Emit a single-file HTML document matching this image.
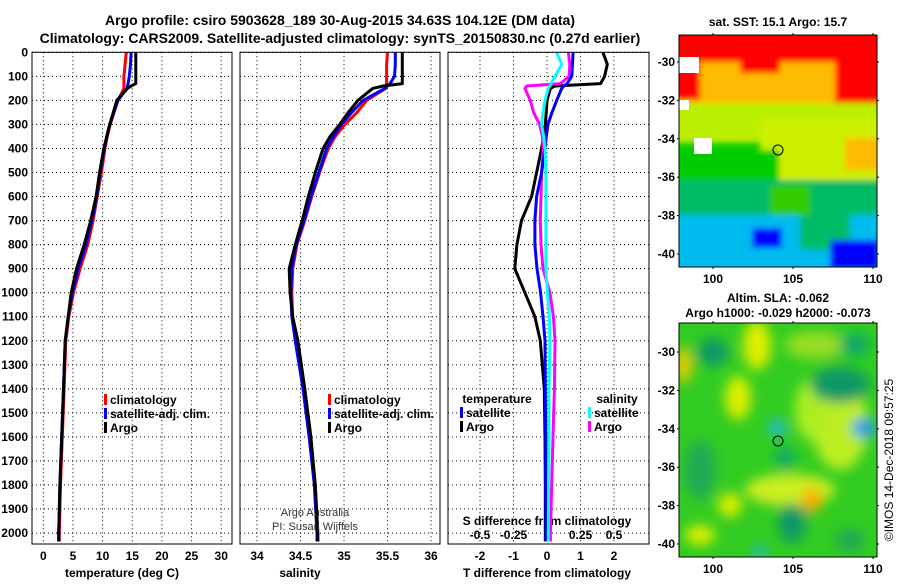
<!DOCTYPE html>
<html><head><meta charset="utf-8"><style>
body{margin:0;background:#fff;width:900px;height:580px;overflow:hidden}
svg text{font-family:"Liberation Sans",sans-serif;font-weight:bold;font-size:12px;fill:#000}
</style></head><body>
<svg id="c" width="900" height="580" viewBox="0 0 900 580">
<defs><filter id="bl" x="-30%" y="-30%" width="160%" height="160%"><feGaussianBlur stdDeviation="6"/></filter>
<filter id="bl2" x="-10%" y="-10%" width="120%" height="120%"><feGaussianBlur stdDeviation="3"/></filter>
<clipPath id="cm1"><rect x="679" y="35" width="198" height="232"/></clipPath>
<clipPath id="cm2"><rect x="679" y="323" width="198" height="234"/></clipPath></defs>
<text x="340" y="25" text-anchor="middle" style="font-size:14px">Argo profile: csiro 5903628_189 30-Aug-2015 34.63S 104.12E (DM data)</text>
<text x="340" y="43" text-anchor="middle" style="font-size:14px">Climatology: CARS2009. Satellite-adjusted climatology: synTS_20150830.nc (0.27d earlier)</text>
<g id="g"></g>
<!-- top map -->
<g clip-path="url(#cm1)">
<rect x="679" y="35" width="198" height="232" fill="#00cc00"/>
<g filter="url(#bl2)">
<rect x="670" y="25" width="220" height="40" fill="#ff0000"/>
<rect x="670" y="62" width="220" height="45" fill="#ffbb00"/>
<polygon points="835,62 890,62 890,125 850,125 835,110" fill="#ff0000"/>
<rect x="670" y="62" width="30" height="38" fill="#ff0000"/>
<rect x="740" y="58" width="40" height="15" fill="#ff0000"/>
<rect x="670" y="103" width="220" height="40" fill="#bbee00"/>
<rect x="760" y="118" width="130" height="62" fill="#ccf000"/>
<rect x="845" y="138" width="40" height="32" fill="#ffbb00"/>
<rect x="679" y="150" width="100" height="35" fill="#00cc00"/>
<rect x="670" y="180" width="220" height="35" fill="#00bb66"/>
<rect x="770" y="185" width="40" height="40" fill="#33cc00"/>
<rect x="670" y="215" width="220" height="60" fill="#00bbee"/>
<rect x="800" y="215" width="50" height="35" fill="#00bb66"/>
<rect x="830" y="240" width="50" height="30" fill="#0000ff"/>
<rect x="752" y="228" width="30" height="20" fill="#0000ff"/>
</g>
<rect x="679" y="57" width="20" height="16" fill="#fff"/>
<rect x="694" y="138" width="18" height="16" fill="#fff"/>
<rect x="679" y="100" width="10" height="10" fill="#fff"/>
<circle cx="778" cy="150" r="5" fill="none" stroke="#000"/>
</g>
<rect x="679" y="35" width="198" height="232" fill="none" stroke="#000"/>
<text x="778" y="26" text-anchor="middle">sat. SST: 15.1 Argo: 15.7</text>
<!-- bottom map -->
<g clip-path="url(#cm2)">
<rect x="679" y="323" width="198" height="234" fill="#33cc22"/>
<g filter="url(#bl)">
<ellipse cx="757" cy="345" rx="14" ry="25" fill="#ddee00"/>
<ellipse cx="738" cy="398" rx="13" ry="22" fill="#ddee00"/>
<ellipse cx="815" cy="345" rx="30" ry="14" fill="#99dd22"/>
<ellipse cx="840" cy="425" rx="28" ry="45" fill="#bbee22"/>
<ellipse cx="810" cy="410" rx="15" ry="30" fill="#aaee22"/>
<ellipse cx="790" cy="490" rx="45" ry="16" fill="#ccee22"/>
<ellipse cx="812" cy="500" rx="10" ry="12" fill="#ffaa00"/>
<ellipse cx="684" cy="365" rx="8" ry="18" fill="#eecc00"/>
<ellipse cx="730" cy="505" rx="12" ry="12" fill="#ddee00"/>
<ellipse cx="700" cy="535" rx="15" ry="10" fill="#ddee00"/>
<ellipse cx="713" cy="352" rx="16" ry="14" fill="#119966"/>
<ellipse cx="840" cy="385" rx="30" ry="18" fill="#119966"/>
<ellipse cx="855" cy="345" rx="15" ry="12" fill="#11aa66"/>
<ellipse cx="785" cy="458" rx="10" ry="12" fill="#11aa66"/>
<ellipse cx="792" cy="523" rx="14" ry="20" fill="#119966"/>
<ellipse cx="700" cy="470" rx="16" ry="30" fill="#22aa55"/>
<ellipse cx="850" cy="540" rx="15" ry="12" fill="#22aa55"/>
<ellipse cx="777" cy="428" rx="9" ry="9" fill="#22bbcc"/>
<ellipse cx="864" cy="428" rx="12" ry="10" fill="#2299ee"/>
<ellipse cx="760" cy="552" rx="8" ry="6" fill="#22bbcc"/>
</g>
<circle cx="778" cy="441" r="5" fill="none" stroke="#000"/>
</g>
<rect x="679" y="323" width="198" height="234" fill="none" stroke="#000"/>
<text x="778" y="302" text-anchor="middle">Altim. SLA: -0.062</text>
<text x="778" y="317" text-anchor="middle">Argo h1000: -0.029 h2000: -0.073</text>
<text transform="translate(893,460) rotate(-90)" text-anchor="middle" style="font-weight:normal">©IMOS 14-Dec-2018 09:57:25</text>
<text x="315" y="516" text-anchor="middle" style="font-weight:normal;font-size:11px;fill:#333">Argo Australia</text>
<text x="315" y="530" text-anchor="middle" style="font-weight:normal;font-size:11px;fill:#333">PI: Susan Wijffels</text>
</svg>
<script>
const depths=[0,50,100,130,140,150,200,250,300,350,400,500,600,700,800,900,1000,1100,1200,1400,1600,1800,2000,2035];
const tempArgo=[15.6,15.6,15.6,15.6,14.8,14.2,12.4,11.8,11.2,10.7,10.2,9.5,8.9,8.0,6.9,5.6,4.7,4.2,3.7,3.4,3.1,2.8,2.6,2.6];
const tempClim=[14.0,13.8,13.6,13.6,13.6,13.6,12.6,11.9,11.3,10.8,10.4,9.8,9.1,8.4,7.5,6.2,5.1,4.3,3.8,3.5,3.2,2.9,2.7,2.7];
const tempSat=[14.8,14.7,14.5,14.3,14.2,14.1,12.6,11.9,11.2,10.7,10.3,9.6,9.0,8.2,7.2,5.9,4.9,4.2,3.7,3.4,3.1,2.8,2.6,2.6];
const salArgo=[35.67,35.67,35.67,35.67,35.45,35.33,35.16,35.05,34.95,34.84,34.76,34.67,34.59,34.52,34.44,34.37,34.38,34.41,34.47,34.55,34.62,34.67,34.70,34.70];
const salClim=[35.50,35.49,35.49,35.49,35.49,35.48,35.26,35.15,35.01,34.90,34.82,34.72,34.63,34.55,34.46,34.41,34.40,34.41,34.44,34.53,34.60,34.66,34.69,34.69];
const salSat=[35.59,35.59,35.58,35.53,35.50,35.47,35.22,35.09,34.97,34.88,34.80,34.71,34.62,34.54,34.45,34.40,34.39,34.40,34.44,34.53,34.60,34.66,34.69,34.69];
const dTArgo=[1.67,1.8,1.72,1.6,0.24,0.1,0,-0.02,-0.05,-0.1,-0.16,-0.31,-0.46,-0.76,-0.9,-0.96,-0.66,-0.36,-0.2,-0.08,-0.06,-0.05,-0.05,-0.05];
const dTSat=[0.78,0.76,0.74,0.6,0.5,0.44,0.29,0.15,0.03,-0.02,-0.06,-0.16,-0.31,-0.36,-0.36,-0.3,-0.19,-0.12,-0.06,-0.05,-0.04,-0.04,-0.03,-0.03];
const dSSat=[0.072,0.11,0.06,0.03,0.02,0.01,-0.015,-0.03,-0.04,-0.025,-0.015,-0.008,-0.008,-0.008,-0.008,-0.008,0.003,0.018,0.022,0.015,0.015,0.012,0.01,0.01];
const dSArgo=[0.16,0.17,0.165,0.1,-0.15,-0.165,-0.125,-0.1,-0.055,-0.035,-0.028,-0.04,-0.045,-0.05,-0.045,-0.03,0.022,0.048,0.06,0.055,0.045,0.035,0.025,0.025];
const depthTicks=[0,100,200,300,400,500,600,700,800,900,1000,1100,1200,1300,1400,1500,1600,1700,1800,1900,2000];
const tempTicks=[0,5,10,15,20,25,30];
const salTicks=[34,34.5,35,35.5,36];
const salTickLabels=["34","34.5","35","35.5","36"];
const dTTicks=[-2,-1,0,1,2];
const dSTicks=[-0.5,-0.25,0,0.25,0.5];

const NS='http://www.w3.org/2000/svg';
const G=document.getElementById('g');
function mk(t,a,p){const e=document.createElementNS(NS,t);for(const k in a)e.setAttribute(k,a[k]);(p||G).appendChild(e);return e;}
const TOP=52.3,BOT=544;
const yD=d=>TOP+d*0.2404;
const xT=v=>43.3+v*5.93;
const xS=v=>257+(v-34)*87;
const xdT=v=>547+v*33.5;
const xdS=v=>547+v*134;
const panels=[[32,232],[240,440],[448,649]];
function grid(x0,x1,xs){
  depthTicks.forEach(d=>{const l=mk('line',{x1:x0,x2:x1,y1:yD(d),y2:yD(d),stroke:'#000','stroke-dasharray':'1,3','stroke-width':1});
    
    });
  xs.forEach(x=>{const l=mk('line',{x1:x,x2:x,y1:TOP,y2:BOT,stroke:'#000','stroke-dasharray':'1,3','stroke-width':1});
    
    });
}
grid(32,232,tempTicks.map(xT));
grid(240,440,salTicks.map(xS));
grid(448,649,dTTicks.map(xdT));
depthTicks.forEach(d=>{const t=mk('text',{x:28,y:yD(d)+4,'text-anchor':'end'});t.textContent=d;
  
  });
function xl(arr,f,lab,y){arr.forEach((v,i)=>{const t=mk('text',{x:f(v),y:y,'text-anchor':'middle'});t.textContent=lab?lab[i]:v;
  
  });}
xl(tempTicks,xT,null,560);
xl(salTicks,xS,salTickLabels,560);
xl(dTTicks,xdT,null,560);
xl(dSTicks,xdS,["-0.5","-0.25","0","0.25","0.5"],539);
function ttl(x,y,s,n){const t=mk('text',{x:x,y:y,'text-anchor':'middle'});t.textContent=s;
  
  }
ttl(122,577,'temperature (deg C)','x-axis-title-temperature');
ttl(300,577,'salinity','x-axis-title-salinity');
ttl(547,577,'T difference from climatology','x-axis-title-t-diff');
ttl(547,525,'S difference from climatology','x-axis-title-s-diff');
function line(vals,f,col,name){
  let pts=[];vals.forEach((v,i)=>{pts.push(f(v).toFixed(1)+','+yD(depths[i]).toFixed(1));});
  const p=mk('polyline',{points:pts.join(' '),fill:'none',stroke:col,'stroke-width':3,'stroke-linejoin':'round'});
  
  
}
line(tempClim,xT,'#ff0000','temp-climatology-line');
line(tempSat,xT,'#0000ff','temp-satellite-line');
line(tempArgo,xT,'#000','temp-argo-line');
line(salClim,xS,'#ff0000','sal-climatology-line');
line(salSat,xS,'#0000ff','sal-satellite-line');
line(salArgo,xS,'#000','sal-argo-line');
line(dTArgo,xdT,'#000','tdiff-argo-line');
line(dSArgo,xdS,'#ff00ff','sdiff-argo-line');
line(dTSat,xdT,'#0000ff','tdiff-satellite-line');
line(dSSat,xdS,'#00ffff','sdiff-satellite-line');
panels.forEach(p=>{const r=mk('rect',{x:p[0],y:TOP,width:p[1]-p[0],height:BOT-TOP,fill:'none',stroke:'#000'});
  
  });
function leg(x,y,col,s){
  const r=mk('rect',{x:x,y:y-10,width:3,height:11,fill:col});
  
  
  const t=mk('text',{x:x+6,y:y});t.textContent=s;
  
  
}
leg(104,404,'#ff0000','climatology');leg(104,418,'#0000ff','satellite-adj. clim.');leg(104,432,'#000','Argo');
leg(328,404,'#ff0000','climatology');leg(328,418,'#0000ff','satellite-adj. clim.');leg(328,432,'#000','Argo');
ttl(497,403,'temperature','legend-title-temperature');
leg(460,417,'#0000ff','satellite');leg(460,431,'#000','Argo');
ttl(617,403,'salinity','legend-title-salinity');
leg(588,417,'#00ffff','satellite');leg(588,431,'#ff00ff','Argo');
const latTicks=[-30,-32,-34,-36,-38,-40];
const lonTicks=[100,105,110];
function mapAx(y0,y1,latY){
  latTicks.forEach((v,i)=>{const y=latY+i*38.4;
    const t=mk('text',{x:675,y:y+4,'text-anchor':'end'});t.textContent=v;
    
    
    mk('line',{x1:677,x2:681,y1:y,y2:y,stroke:'#000'});mk('line',{x1:875,x2:879,y1:y,y2:y,stroke:'#000'});});
  lonTicks.forEach((v,i)=>{const x=713+i*80;
    const t=mk('text',{x:x,y:y1+16,'text-anchor':'middle'});t.textContent=v;
    
    
    mk('line',{x1:x,x2:x,y1:y0-2,y2:y0+2,stroke:'#000'});mk('line',{x1:x,x2:x,y1:y1-2,y2:y1+2,stroke:'#000'});});
}
mapAx(35,267,62);
mapAx(323,557,352);
</script>
</body></html>
